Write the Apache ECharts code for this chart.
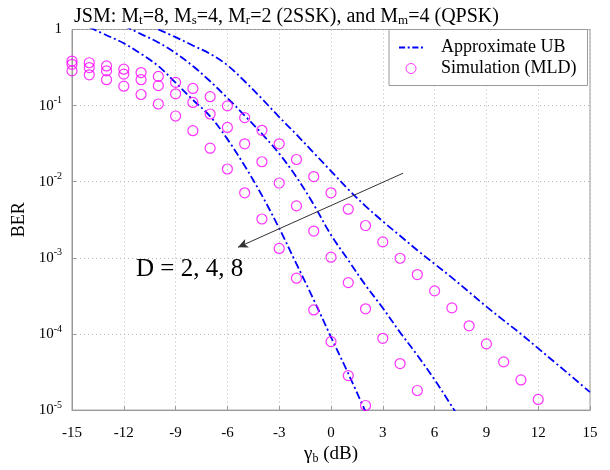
<!DOCTYPE html>
<html><head><meta charset="utf-8">
<script src="https://cdn.jsdelivr.net/npm/echarts@6/dist/echarts.min.js"></script>
<style>html,body{margin:0;padding:0;background:#fff}#c{width:610px;height:470px}</style>
</head><body><div id="c"></div>
<script>
const FONT = '"Liberation Serif","Times New Roman",Times,serif';

// Simulation (MLD) results
const snrSimD2 = [-15,-14,-13,-12,-11,-10,-9,-8,-7,-6,-5,-4,-3,-2,-1,0,1,2];
const berSimD2 = [0.286,0.254,0.219,0.180,0.140,0.105,0.0731,0.0468,0.0276,0.0147,0.00715,0.00324,0.00133,0.000541,0.000207,7.94e-5,2.84e-5,1.15e-5];
const snrSimD4 = [-15,-14,-13,-12,-11,-10,-9,-8,-7,-6,-5,-4,-3,-2,-1,0,1,2,3,4,5];
const berSimD4 = [0.349,0.316,0.286,0.259,0.219,0.183,0.143,0.110,0.0776,0.0517,0.0315,0.0183,0.00962,0.00482,0.00225,0.00102,0.000473,0.000214,8.77e-5,4.09e-5,1.81e-5];
const snrSimD8 = [-15,-14,-13,-12,-11,-10,-9,-8,-7,-6,-5,-4,-3,-2,-1,0,1,2,3,4,5,6,7,8,9,10,11,12];
const berSimD8 = [0.385,0.366,0.332,0.301,0.272,0.242,0.202,0.168,0.131,0.0993,0.0696,0.0474,0.0315,0.0196,0.0117,0.00715,0.00436,0.00266,0.00162,0.000988,0.000604,0.000368,0.000220,0.000128,7.41e-5,4.30e-5,2.49e-5,1.38e-5];

// Approximate upper bounds
const snrUbD2 = [-14,-13,-12,-11,-10,-9,-8,-7,-6,-5,-4,-3,-2,-1,0,1,2];
const berUbD2 = [1.07,0.841,0.661,0.479,0.331,0.200,0.119,0.0724,0.0363,0.0162,0.00661,0.00245,0.000832,0.000282,9.12e-5,3.02e-5,9.55e-6];
const snrUbD4 = [-12,-11,-10,-9,-8,-7,-6,-5,-4,-3,-2,-1,0,1,2,3,4,5,6,7,8];
const berUbD4 = [1.12,0.871,0.676,0.490,0.331,0.209,0.126,0.0741,0.0427,0.0234,0.0115,0.00501,0.00200,0.000933,0.000437,0.000219,0.000105,5.25e-5,2.51e-5,1.12e-5,5.0e-6];
const snrUbD8 = [-10,-9,-8,-7,-6,-5,-4,-3,-2,-1,0,1,2,3,4,5,6,7,8,9,10,11,12,13,14,15];
const berUbD8 = [1.0,0.794,0.617,0.479,0.339,0.209,0.123,0.0708,0.0417,0.0240,0.0138,0.00794,0.00479,0.00302,0.00195,0.00126,0.000832,0.000550,0.000355,0.000229,0.000151,0.000100,6.46e-5,4.17e-5,2.69e-5,1.72e-5];

// Axis ranges / labels
const xTicks = [-15,-12,-9,-6,-3,0,3,6,9,12,15];
const yExponents = [0,-1,-2,-3,-4,-5];

// annotation arrow (data coords) and label
const arrowFrom = [4.17, 0.01294];
const arrowTo = [-5.39, 0.001377];
const annotText = 'D = 2, 4, 8';

function pairs(xs, ys){ return xs.map((x,i)=>[x, ys[i]]); }

const ubStyle = {color:'#0000ff', width:1.8, type:[8,3,2,3]};
function ubSeries(xs, ys, extra){
  return Object.assign({
    name:'Approximate UB', type:'line', data:pairs(xs,ys), symbol:'none',
    smooth:0.35, clip:true, lineStyle:ubStyle, itemStyle:{color:'#0000ff'}, z:2
  }, extra||{});
}
function simSeries(xs, ys){
  return {
    name:'Simulation (MLD)', type:'scatter', data:pairs(xs,ys), symbol:'circle', symbolSize:10,
    itemStyle:{color:'rgba(255,255,255,0)', borderColor:'#ff00ff', borderWidth:1.2}, z:3
  };
}

const dashDotIcon = 'path://M0,0h6v2h-6zM8.5,0h2v2h-2zM13,0h6v2h-6zM21.5,0h2v2h-2z';

const chart = echarts.init(document.getElementById('c'), null, {renderer:'canvas'});
chart.setOption({
  animation:false,
  backgroundColor:'#fff',
  title:{
    text:'JSM: M{s|t}=8, M{s|s}=4, M{s|r}=2 (2SSK), and M{s|m}=4 (QPSK)',
    left:69, top:1,
    textStyle:{fontFamily:FONT, fontSize:20, fontWeight:'normal', color:'#000',
      rich:{s:{fontFamily:FONT, fontSize:13, color:'#000', padding:[8,0,0,0]}}}
  },
  legend:{
    data:[
      {name:'Approximate UB', icon:dashDotIcon, itemStyle:{color:'#0000ff', borderWidth:0}},
      {name:'Simulation (MLD)', icon:'circle', itemStyle:{color:'rgba(255,255,255,0)', borderColor:'#ff00ff', borderWidth:1}}
    ],
    orient:'vertical', left:389, top:29.5,
    padding:[9,11,8,10], itemWidth:24, itemHeight:10, itemGap:3,
    borderColor:'#999', borderWidth:1, backgroundColor:'#fff',
    textStyle:{fontFamily:FONT, fontSize:18, color:'#000', padding:[0,0,0,13]}
  },
  grid:{left:72, right:20, top:29.5, bottom:52.5, show:true, borderColor:'#999', borderWidth:1},
  xAxis:{
    type:'value', min:xTicks[0], max:xTicks[xTicks.length-1], interval:3,
    name:'{g|γ}{b|b}{g| (dB)}', nameLocation:'middle', nameGap:27,
    nameTextStyle:{fontFamily:FONT, fontSize:19, color:'#000',
      rich:{g:{fontFamily:FONT, fontSize:19, color:'#000'}, b:{fontFamily:FONT, fontSize:12, color:'#000', padding:[9,0,0,0]}}},
    axisLine:{show:true, onZero:false, lineStyle:{color:'#999'}},
    axisTick:{show:true, inside:true, length:4, lineStyle:{color:'#999'}},
    axisLabel:{fontFamily:FONT, fontSize:15, color:'#000', margin:15},
    splitLine:{show:true, lineStyle:{color:'#b8b8b8', type:[1,3], width:1}}
  },
  yAxis:{
    type:'log', logBase:10, min:Math.pow(10, yExponents[yExponents.length-1]), max:Math.pow(10, yExponents[0]),
    name:'BER', nameLocation:'middle', nameGap:36, nameRotate:90,
    nameTextStyle:{fontFamily:FONT, fontSize:18, color:'#000'},
    axisLine:{show:true, onZero:false, lineStyle:{color:'#999'}},
    axisTick:{show:true, inside:true, length:4, lineStyle:{color:'#999'}},
    minorTick:{show:false},
    axisLabel:{
      margin:10, color:'#000',
      formatter:function(v){
        const e = Math.round(Math.log10(v));
        return e===0 ? '{n|1}' : '{n|10}{e|' + e + '}';
      },
      rich:{n:{fontFamily:FONT, fontSize:15, color:'#000'}, e:{fontFamily:FONT, fontSize:10, color:'#000', padding:[0,0,10,0]}}
    },
    splitLine:{show:true, lineStyle:{color:'#b8b8b8', type:[1,3], width:1}}
  },
  graphic:[
    {type:'text', left:136, top:257, style:{text:annotText, font:'25px "Liberation Serif","Times New Roman",serif', fill:'#000'}}
  ],
  series:[
    ubSeries(snrUbD2, berUbD2, {
      markLine:{
        silent:true, animation:false, symbol:['none','arrow'], symbolSize:[7,10],
        label:{show:false},
        lineStyle:{color:'#333', width:1, type:'solid'},
        data:[[{coord:arrowFrom}, {coord:arrowTo}]]
      }
    }),
    ubSeries(snrUbD4, berUbD4),
    ubSeries(snrUbD8, berUbD8),
    simSeries(snrSimD2, berSimD2),
    simSeries(snrSimD4, berSimD4),
    simSeries(snrSimD8, berSimD8)
  ]
});
</script></body></html>
